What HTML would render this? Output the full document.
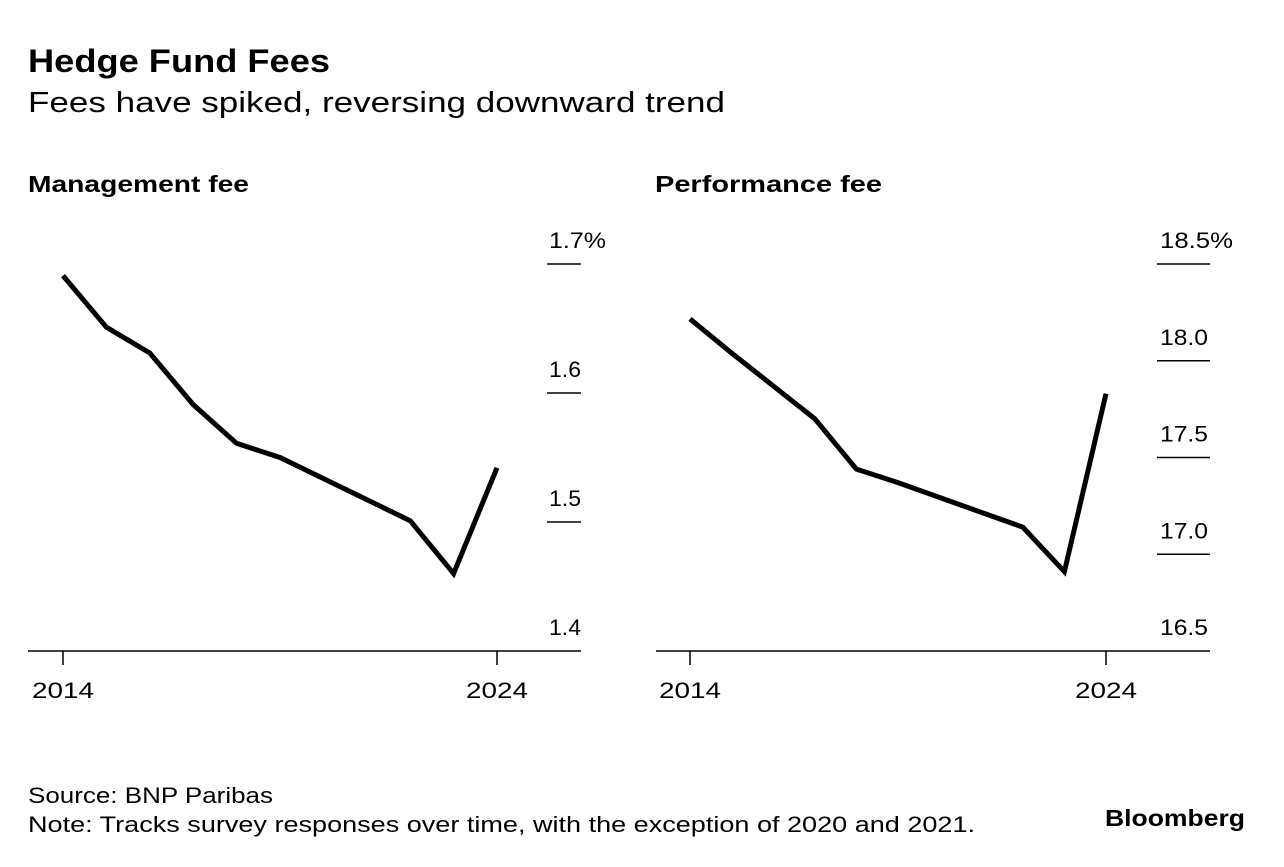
<!DOCTYPE html>
<html><head><meta charset="utf-8"><style>
body{margin:0;background:#fff;width:1284px;height:862px;overflow:hidden;font-family:"Liberation Sans",sans-serif;color:#000}
</style></head><body>
<svg width="1284" height="862" font-family="Liberation Sans, sans-serif">
<text x="28" y="72" font-size="32" font-weight="bold" textLength="302" lengthAdjust="spacingAndGlyphs">Hedge Fund Fees</text>
<text x="28" y="112" font-size="29" textLength="697" lengthAdjust="spacingAndGlyphs">Fees have spiked, reversing downward trend</text>
<text x="28" y="192" font-size="23" font-weight="bold" textLength="221" lengthAdjust="spacingAndGlyphs">Management fee</text>
<text x="655" y="192" font-size="23" font-weight="bold" textLength="227" lengthAdjust="spacingAndGlyphs">Performance fee</text>
<g id="left"></g>
<g id="right"></g>
<text x="28" y="803" font-size="22" textLength="245" lengthAdjust="spacingAndGlyphs">Source: BNP Paribas</text>
<text x="28" y="832" font-size="22" textLength="947" lengthAdjust="spacingAndGlyphs">Note: Tracks survey responses over time, with the exception of 2020 and 2021.</text>
<text x="1105" y="826" font-size="23" font-weight="bold" textLength="140" lengthAdjust="spacingAndGlyphs">Bloomberg</text>
</svg>
<script>
const years=[2014,2015,2016,2017,2018,2019,2022,2023,2024];
const mgmtValues=[1.691,1.651,1.631,1.591,1.561,1.550,1.501,1.460,1.542];
const perfValues=[18.216,18.04,17.87,17.70,17.44,17.37,17.14,16.91,17.83];
const mgmtTicks=[1.4,1.5,1.6,1.7];
const mgmtTickLabels=["1.4","1.5","1.6","1.7%"];
const perfTicks=[16.5,17.0,17.5,18.0,18.5];
const perfTickLabels=["16.5","17.0","17.5","18.0","18.5%"];
const xLabels=[2014,2024];
const NS="http://www.w3.org/2000/svg";
function mk(p,t,a){const e=document.createElementNS(NS,t);for(const k in a)e.setAttribute(k,a[k]);p.appendChild(e);return e;}
function panel(g,o){
  const x=v=>o.x0+(v-2014)*(o.x1-o.x0)/10;
  const y=v=>651-(v-o.min)*(651-264)/(o.max-o.min);
  const base=mk(g,'line',{x1:o.left,x2:o.right,y1:651,y2:651,stroke:'#000','stroke-width':1.5});
  
  
  o.ticks.forEach((t,i)=>{
    if(t!==o.min){const l=mk(g,'line',{x1:o.right-o.tw,x2:o.right,y1:y(t),y2:y(t),stroke:'#000','stroke-width':1.5});
    
    }
    const lab=o.labels[i];
    const w=lab.includes('%')?o.wp:o.wn;
    const tx=mk(g,'text',{x:o.lx,y:y(t)-16,'font-size':22,textLength:w,lengthAdjust:'spacingAndGlyphs'});
    tx.textContent=lab;
    
    
  });
  xLabels.forEach(v=>{
    const l=mk(g,'line',{x1:x(v),x2:x(v),y1:651,y2:665,stroke:'#000','stroke-width':1.5});
    
    
    const tx=mk(g,'text',{x:x(v)-31,y:698,'font-size':22,textLength:62,lengthAdjust:'spacingAndGlyphs'});
    tx.textContent=v;
    
    
  });
  const pts=years.map((yr,i)=>x(yr)+','+y(o.vals[i])).join(' ');
  const pl=mk(g,'polyline',{points:pts,fill:'none',stroke:'#000','stroke-width':5,'stroke-linejoin':'miter'});
  
  
}
panel(document.getElementById('left'),{x0:63,x1:497,left:28,right:581,tw:34,lx:549,wn:32,wp:57,min:1.4,max:1.7,ticks:mgmtTicks,labels:mgmtTickLabels,vals:mgmtValues});
panel(document.getElementById('right'),{x0:690,x1:1106,left:656,right:1210,tw:53,lx:1160,wn:48,wp:73,min:16.5,max:18.5,ticks:perfTicks,labels:perfTickLabels,vals:perfValues});
</script>
</body></html>
